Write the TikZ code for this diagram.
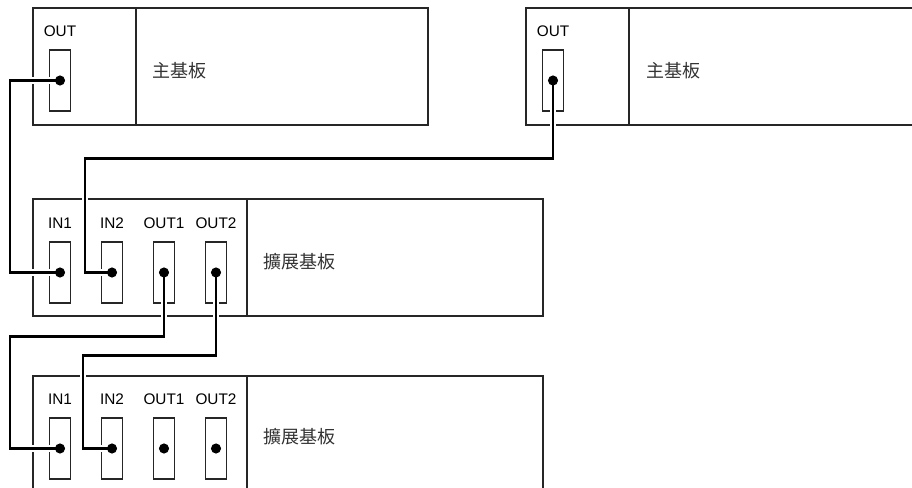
\documentclass[tikz,border=0pt]{standalone}
\usepackage{fontspec}
\setmainfont{Liberation Sans}
\newfontfamily\cjk{Noto Sans CJK TC}
\usetikzlibrary{positioning,calc}
\tikzset{
  board/.style={draw=black!85, line width=0.8pt},
  port/.style={draw=black!85, line width=0.8pt, minimum width=15.75pt, minimum height=45.75pt, inner sep=0pt},
  portlabel/.style={inner sep=0pt, font=\fontsize{11.5}{13}\selectfont},
  boardname/.style={anchor=west, inner sep=0pt, text=black!80, font=\cjk\fontsize{13.5}{15}\selectfont},
  cable/.style={line width=1.8pt, preaction={draw=white, line width=4.8pt}}
}
\begin{document}
\begin{tikzpicture}[x=0.75pt, y=-0.75pt]
  \clip (0,0) rectangle (912,488);
  % main boards
  \draw[board] (33,8) rectangle (428,125) (136,8) -- (136,125);
  \draw[board] (526,8) rectangle (920,125) (629,8) -- (629,125);
  \node[port] (m1out) at (60,80.5) {};
  \node[port] (m2out) at (553,80.5) {};
  \node[portlabel, above=9.7pt of m1out] (m1outlbl) {OUT};
  \node[portlabel, above=9.7pt of m2out] (m2outlbl) {OUT};
  \node[boardname] (m1name) at (152,71) {主基板};
  \node[boardname] (m2name) at (646,71) {主基板};
  % expansion boards
  \draw[board] (33,199) rectangle (543,316) (247,199) -- (247,316);
  \draw[board] (33,376) rectangle (543,493) (247,376) -- (247,493);
  \foreach \p/\x/\t in {in1/60/IN1, in2/112/IN2, out1/164/OUT1, out2/216/OUT2} {
    \node[port] (e1\p) at (\x,272.5) {};
    \node[portlabel, above=9.5pt of e1\p] (e1\p lbl) {\t};
    \node[port] (e2\p) at (\x,448.5) {};
    \node[portlabel, above=9.5pt of e2\p] (e2\p lbl) {\t};
  }
  \node[boardname] (e1name) at (263,262) {擴展基板};
  \node[boardname] (e2name) at (263,437) {擴展基板};
  % cables
  \draw[cable] (m1out.center) -- ++(-50,0) |- (e1in1.center);
  \draw[cable] (m2out.center) -- ++(0,78) -| ($(e1in2.center)+(-27,0)$) -- (e1in2.center);
  \draw[cable] (e1out1.center) -- ++(0,64) -| ($(e2in1.center)+(-50,0)$) -- (e2in1.center);
  \draw[cable] (e1out2.center) -- ++(0,83) -| ($(e2in2.center)+(-29,0)$) -- (e2in2.center);
  \foreach \s in {m1out, m2out, e1in1, e1in2, e1out1, e1out2, e2in1, e2in2, e2out1, e2out2}
    \fill (\s.center) circle (3.8pt);
\end{tikzpicture}
\end{document}
